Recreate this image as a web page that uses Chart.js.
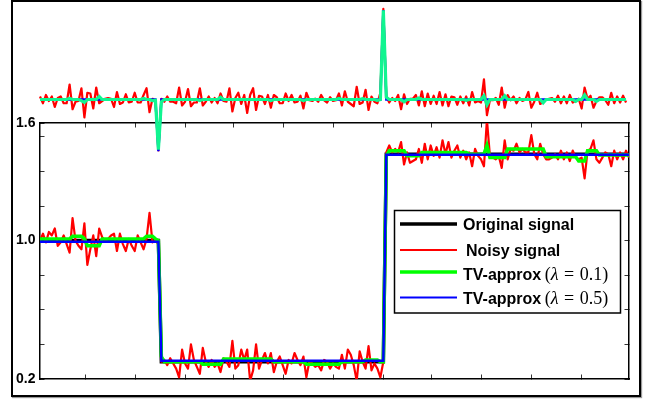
<!DOCTYPE html>
<html><head><meta charset="utf-8">
<script src="https://cdn.jsdelivr.net/npm/chart.js@4.4.1/dist/chart.umd.min.js"></script>
<style>
html,body{margin:0;padding:0;background:#fff;}
#wrap{position:relative;width:651px;height:403px;overflow:hidden;}
#frame{position:absolute;left:11px;top:0px;width:626px;height:393px;border:2px solid #000;box-shadow:1px 1px 1px #999;}
canvas{position:absolute;left:0;top:0;}
</style></head><body>
<div id="wrap"><div id="frame"></div>
<canvas id="main" width="651" height="403"></canvas>
<canvas id="top" width="651" height="403"></canvas>
</div>
<script>
// ---- data (sample index 0..199) ----
const original = [
1,1,1,1,1,1,1,1,1,1,
1,1,1,1,1,1,1,1,1,1,
1,1,1,1,1,1,1,1,1,1,
1,1,1,1,1,1,1,1,1,1,
1,0.3,0.3,0.3,0.3,0.3,0.3,0.3,0.3,0.3,
0.3,0.3,0.3,0.3,0.3,0.3,0.3,0.3,0.3,0.3,
0.3,0.3,0.3,0.3,0.3,0.3,0.3,0.3,0.3,0.3,
0.3,0.3,0.3,0.3,0.3,0.3,0.3,0.3,0.3,0.3,
0.3,0.3,0.3,0.3,0.3,0.3,0.3,0.3,0.3,0.3,
0.3,0.3,0.3,0.3,0.3,0.3,0.3,0.3,0.3,0.3,
0.3,0.3,0.3,0.3,0.3,0.3,0.3,0.3,0.3,0.3,
0.3,0.3,0.3,0.3,0.3,0.3,0.3,1.5,1.5,1.5,
1.5,1.5,1.5,1.5,1.5,1.5,1.5,1.5,1.5,1.5,
1.5,1.5,1.5,1.5,1.5,1.5,1.5,1.5,1.5,1.5,
1.5,1.5,1.5,1.5,1.5,1.5,1.5,1.5,1.5,1.5,
1.5,1.5,1.5,1.5,1.5,1.5,1.5,1.5,1.5,1.5,
1.5,1.5,1.5,1.5,1.5,1.5,1.5,1.5,1.5,1.5,
1.5,1.5,1.5,1.5,1.5,1.5,1.5,1.5,1.5,1.5,
1.5,1.5,1.5,1.5,1.5,1.5,1.5,1.5,1.5,1.5,
1.5,1.5,1.5,1.5,1.5,1.5,1.5,1.5,1.5,1.5];

const noisy = [
1.00,1.04,0.99,1.05,1.03,1.07,0.97,0.99,1.03,0.98,
0.93,1.13,1.00,0.97,0.95,1.10,0.86,0.95,1.03,0.91,
1.07,1.02,1.00,1.01,1.03,1.04,0.94,1.04,0.98,0.94,
1.01,0.97,0.94,1.03,0.99,0.95,1.01,1.16,0.99,1.00,
0.98,0.30,0.31,0.28,0.32,0.29,0.26,0.21,0.37,0.29,
0.26,0.40,0.31,0.27,0.23,0.38,0.30,0.27,0.31,0.27,
0.29,0.24,0.32,0.30,0.27,0.42,0.26,0.28,0.37,0.31,
0.37,0.19,0.25,0.40,0.26,0.31,0.35,0.29,0.35,0.24,
0.30,0.33,0.28,0.23,0.31,0.29,0.35,0.31,0.28,0.33,
0.21,0.30,0.29,0.27,0.28,0.25,0.31,0.30,0.26,0.29,
0.27,0.26,0.34,0.26,0.37,0.34,0.28,0.19,0.36,0.30,
0.26,0.39,0.25,0.29,0.26,0.21,0.30,1.51,1.55,1.51,
1.53,1.51,1.57,1.44,1.51,1.45,1.46,1.47,1.53,1.45,
1.56,1.47,1.55,1.49,1.54,1.48,1.58,1.50,1.57,1.48,
1.52,1.55,1.48,1.52,1.47,1.51,1.43,1.53,1.49,1.47,
1.43,1.70,1.49,1.48,1.47,1.49,1.42,1.58,1.47,1.53,
1.52,1.56,1.51,1.53,1.51,1.51,1.61,1.50,1.47,1.56,
1.50,1.47,1.47,1.48,1.50,1.47,1.52,1.47,1.51,1.46,
1.52,1.48,1.47,1.48,1.36,1.52,1.53,1.58,1.47,1.45,
1.48,1.51,1.50,1.43,1.52,1.47,1.51,1.47,1.52,1.48];

const tvSmall = [
1.01,1.01,1.01,1.01,1.01,1.01,1.01,1.01,1.01,1.01,
1.01,1.025,1.025,1.025,1.025,1.01,0.97,0.97,0.97,0.97,
0.97,1.01,1.01,1.01,1.01,1.01,1.01,1.01,1.01,1.01,
1.01,1.01,1.01,1.01,1.01,1.01,1.025,1.025,1.025,1.01,
1.00,0.33,0.30,0.30,0.30,0.30,0.30,0.30,0.30,0.30,
0.30,0.30,0.30,0.30,0.30,0.285,0.285,0.285,0.285,0.285,
0.285,0.285,0.315,0.315,0.315,0.315,0.315,0.315,0.315,0.315,
0.315,0.315,0.315,0.315,0.315,0.315,0.315,0.315,0.315,0.30,
0.30,0.30,0.30,0.30,0.30,0.30,0.30,0.30,0.30,0.30,
0.285,0.285,0.285,0.285,0.285,0.285,0.285,0.285,0.285,0.285,
0.285,0.285,0.30,0.30,0.30,0.30,0.30,0.30,0.30,0.30,
0.31,0.31,0.31,0.31,0.31,0.30,0.30,1.49,1.52,1.52,
1.52,1.52,1.52,1.52,1.49,1.49,1.49,1.49,1.49,1.51,
1.51,1.51,1.51,1.51,1.51,1.51,1.51,1.51,1.51,1.51,
1.51,1.51,1.51,1.51,1.51,1.50,1.50,1.50,1.50,1.50,
1.50,1.55,1.48,1.48,1.48,1.48,1.48,1.48,1.53,1.53,
1.53,1.53,1.53,1.53,1.53,1.53,1.53,1.53,1.53,1.53,
1.53,1.485,1.485,1.485,1.485,1.485,1.485,1.485,1.485,1.485,
1.485,1.485,1.46,1.46,1.46,1.52,1.52,1.52,1.52,1.495,
1.495,1.495,1.495,1.495,1.495,1.495,1.495,1.495,1.495,1.495];

const tvLarge = [
0.993,0.993,0.993,0.993,0.993,0.993,0.993,0.993,0.993,0.993,
0.993,0.993,0.993,0.993,0.993,0.993,0.993,0.993,0.993,0.993,
0.993,0.993,0.993,0.993,0.993,0.993,0.993,0.993,0.993,0.993,
0.993,0.993,0.993,0.993,0.993,0.993,0.993,0.993,0.993,0.993,
0.993,0.305,0.305,0.305,0.305,0.305,0.305,0.305,0.305,0.305,
0.305,0.305,0.305,0.305,0.305,0.305,0.305,0.305,0.305,0.305,
0.305,0.305,0.305,0.305,0.305,0.305,0.305,0.305,0.305,0.305,
0.305,0.305,0.305,0.305,0.305,0.305,0.305,0.305,0.305,0.305,
0.305,0.305,0.305,0.305,0.305,0.305,0.305,0.305,0.305,0.305,
0.305,0.305,0.305,0.305,0.305,0.305,0.305,0.305,0.305,0.305,
0.305,0.305,0.305,0.305,0.305,0.305,0.305,0.305,0.305,0.305,
0.305,0.305,0.305,0.305,0.305,0.305,0.305,1.497,1.497,1.497,
1.497,1.497,1.497,1.497,1.497,1.497,1.497,1.497,1.497,1.497,
1.497,1.497,1.497,1.497,1.497,1.497,1.497,1.497,1.497,1.497,
1.497,1.497,1.497,1.497,1.497,1.497,1.497,1.497,1.497,1.497,
1.497,1.497,1.497,1.497,1.497,1.497,1.497,1.497,1.497,1.497,
1.497,1.497,1.497,1.497,1.497,1.497,1.497,1.497,1.497,1.497,
1.497,1.497,1.497,1.497,1.497,1.497,1.497,1.497,1.497,1.497,
1.497,1.497,1.497,1.497,1.497,1.497,1.497,1.497,1.497,1.497,
1.497,1.497,1.497,1.497,1.497,1.497,1.497,1.497,1.497,1.497];

const seriesLabels = ['Original signal', 'Noisy signal', 'TV-approx (λ = 0.1)', 'TV-approx (λ = 0.5)'];
const xTicks = [15.5, 32.4, 49.0, 65.5, 82.4, 99.0, 115.9, 132.4, 149.3, 165.9, 182.8];
const yTicks = [0.2, 0.4, 0.6, 0.8, 1.0, 1.2, 1.4, 1.6];
const yLabels = {'0.2': '0.2', '1.0': '1.0', 'top': '1.6'};
const X_MAX = 199, Y_MIN = 0.2, Y_MAX = 1.68;

// ---- helpers ----
const pts = arr => arr.map((v, i) => ({x: i, y: v}));
const diffPts = arr => arr.slice(1).map((v, i) => ({x: i, y: v - arr[i]}));

const SANS = '"Liberation Sans", Arial, Helvetica, sans-serif';
const SERIF = '"Liberation Serif", "Times New Roman", serif';

const boxLegend = {
  id: 'boxLegend',
  afterDatasetsDraw(chart) {
    const ctx = chart.ctx;
    ctx.save();
    const bx = 394.5, by = 210.5, bw = 226, bh = 102.5;
    ctx.fillStyle = '#fff';
    ctx.fillRect(bx, by, bw, bh);
    ctx.lineWidth = 1.5;
    ctx.strokeStyle = '#000';
    ctx.strokeRect(bx, by, bw, bh);
    const lineY = [224, 250, 272, 297.5];
    const textY = [230, 255.5, 279.5, 303.5];
    const lw = [3.5, 2, 3.5, 2.2];
    chart.data.datasets.forEach((ds, k) => {
      ctx.beginPath();
      ctx.moveTo(400, lineY[k]);
      ctx.lineTo(457, lineY[k]);
      ctx.lineWidth = lw[k];
      ctx.strokeStyle = ds.borderColor;
      ctx.stroke();
      const parts = ds.label.split(' (');
      let x = k === 1 ? 466 : 463;
      const ty = textY[k];
      ctx.fillStyle = '#000';
      ctx.textAlign = 'left';
      ctx.textBaseline = 'alphabetic';
      ctx.font = 'bold 16px ' + SANS;
      ctx.fillText(parts[0], x, ty);
      if (parts[1]) {
        x += ctx.measureText(parts[0]).width + 3.5;
        const m = parts[1].replace(')', '');      // "λ = 0.1"
        const [lam, val] = m.split(' = ');
        ctx.font = '18px ' + SERIF;
        ctx.fillText('(', x, ty); x += ctx.measureText('(').width;
        ctx.font = 'italic 18px ' + SERIF;
        ctx.fillText(lam, x, ty); x += ctx.measureText(lam).width + 5.5;
        ctx.font = '18px ' + SERIF;
        ctx.fillText('=', x, ty); x += ctx.measureText('=').width + 5.5;
        ctx.fillText(val + ')', x, ty);
      }
    });
    ctx.restore();
  }
};

const tickGrid = {drawOnChartArea: false, tickLength: -4.5, tickColor: '#333', tickWidth: 1};
const border = {color: '#000', width: 1.5};

// Chart.js draws higher "order" first (underneath): black, red, green, then blue on top
new Chart(document.getElementById('main'), {
  type: 'line',
  data: {
    datasets: [
      {label: seriesLabels[0], data: pts(original), borderColor: '#000000', borderWidth: 3.5, order: 4},
      {label: seriesLabels[1], data: pts(noisy), borderColor: '#ff0000', borderWidth: 2.2, borderJoinStyle: 'round', order: 3},
      {label: seriesLabels[2], data: pts(tvSmall), borderColor: '#00ff00', borderWidth: 3.5, order: 2},
      {label: seriesLabels[3], data: pts(tvLarge), borderColor: '#0000ff', borderWidth: 2.5, order: 1}
    ]
  },
  options: {
    responsive: false, animation: false, devicePixelRatio: 1,
    layout: {padding: {left: 0, right: 22, top: 123, bottom: 24}},
    elements: {point: {radius: 0}, line: {tension: 0}},
    plugins: {legend: {display: false}, tooltip: {enabled: false}},
    scales: {
      x: {type: 'linear', position: 'bottom', min: 0, max: X_MAX,
          afterBuildTicks: s => { s.ticks = xTicks.map(v => ({value: v})); },
          ticks: {display: false}, grid: tickGrid, border: border,
          afterFit: s => { s.height = 0; }},
      xTop: {type: 'linear', position: 'top', min: 0, max: X_MAX,
          afterBuildTicks: s => { s.ticks = xTicks.map(v => ({value: v})); },
          ticks: {display: false}, grid: tickGrid, border: border,
          afterFit: s => { s.height = 0; }},
      y: {type: 'linear', position: 'left', min: Y_MIN, max: Y_MAX,
          afterBuildTicks: s => { s.ticks = yTicks.concat([Y_MAX]).map(v => ({value: v})); },
          ticks: {autoSkip: false, padding: 9, color: '#000',
                  font: {family: SANS, weight: 'bold', size: 14},
                  callback: v => (v === Y_MAX ? yLabels.top : (yLabels[v.toFixed(1)] || ''))},
          grid: tickGrid, border: border,
          afterFit: s => { s.width = 40; }},
      yRight: {type: 'linear', position: 'right', min: Y_MIN, max: Y_MAX,
          afterBuildTicks: s => { s.ticks = yTicks.map(v => ({value: v})); },
          ticks: {display: false}, grid: tickGrid, border: border,
          afterFit: s => { s.width = 0; }}
    }
  },
  plugins: [boxLegend]
});

// upper panel: first differences of the signals (red under blue under green)
new Chart(document.getElementById('top'), {
  type: 'line',
  data: {
    datasets: [
      {label: 'Δ ' + seriesLabels[1], data: diffPts(noisy), borderColor: '#ff0000', borderWidth: 2.2, borderJoinStyle: 'round', order: 3},
      {label: 'Δ ' + seriesLabels[3], data: diffPts(tvLarge), borderColor: '#0000ff', borderWidth: 2.4, order: 2},
      {label: 'Δ ' + seriesLabels[2], data: diffPts(tvSmall), borderColor: '#10f590', borderWidth: 3.2, order: 1}
    ]
  },
  options: {
    responsive: false, animation: false, devicePixelRatio: 1,
    layout: {padding: {left: 40, right: 22, top: 5, bottom: 248}},
    elements: {point: {radius: 0}, line: {tension: 0}},
    plugins: {legend: {display: false}, tooltip: {enabled: false}},
    datasets: {line: {clip: false}},
    scales: {
      x: {type: 'linear', min: 0, max: X_MAX, display: false},
      y: {type: 'linear', min: -0.74, max: 1.26, display: false}
    }
  }
});
</script>
</body></html>
